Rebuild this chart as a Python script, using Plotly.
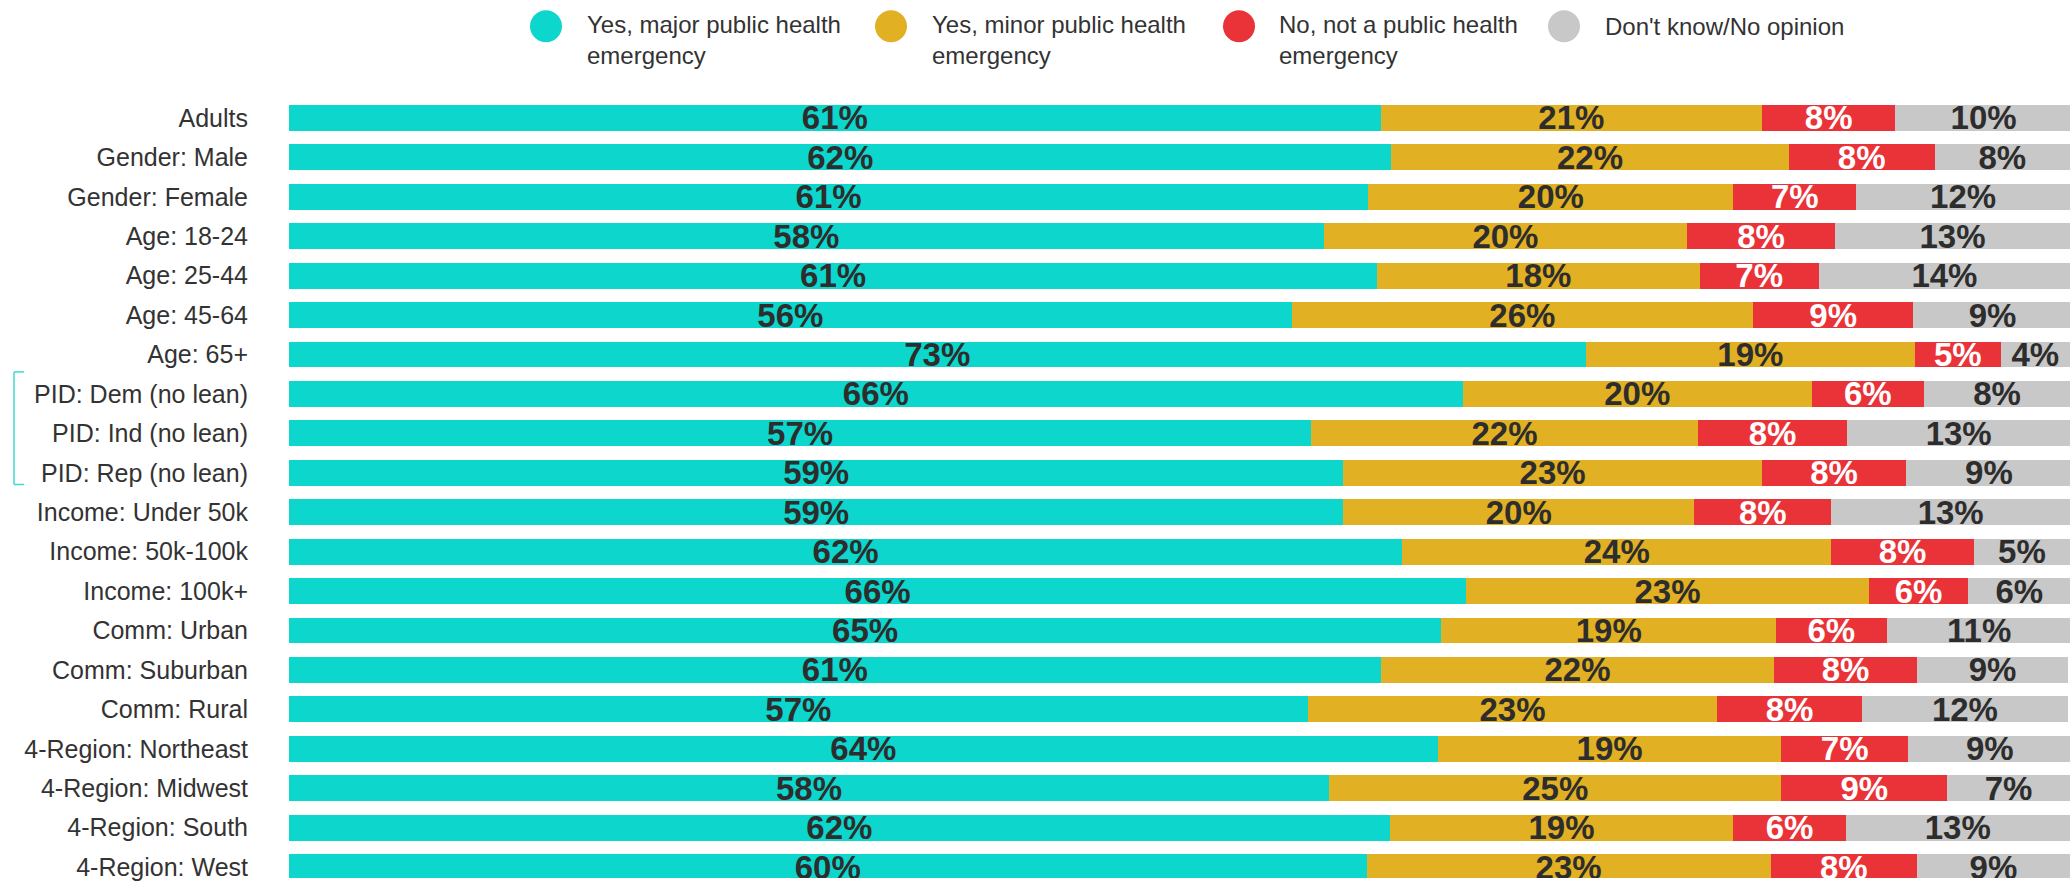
import plotly.graph_objects as go

categories = [
    "Adults", "Gender: Male", "Gender: Female", "Age: 18-24", "Age: 25-44",
    "Age: 45-64", "Age: 65+", "PID: Dem (no lean)", "PID: Ind (no lean)",
    "PID: Rep (no lean)", "Income: Under 50k", "Income: 50k-100k",
    "Income: 100k+", "Comm: Urban", "Comm: Suburban", "Comm: Rural",
    "4-Region: Northeast", "4-Region: Midwest", "4-Region: South", "4-Region: West",
]

series_names = [
    "Yes, major public health emergency",
    "Yes, minor public health emergency",
    "No, not a public health emergency",
    "Don't know/No opinion",
]

# underlying shares
major = [61.3, 61.9, 60.6, 58.1, 61.1, 56.3, 72.8, 65.9, 57.4, 59.2,
         59.2, 62.5, 66.1, 64.7, 61.3, 57.2, 64.5, 58.4, 61.8, 60.5]
minor = [21.4, 22.3, 20.5, 20.4, 18.1, 25.9, 18.5, 19.6, 21.7, 23.5,
         19.7, 24.1, 22.6, 18.8, 22.1, 23.0, 19.3, 25.4, 19.3, 22.7]
notphe = [7.5, 8.2, 6.9, 8.3, 6.7, 9.0, 4.8, 6.3, 8.4, 8.1,
          7.7, 8.0, 5.6, 6.2, 8.0, 8.1, 7.1, 9.3, 6.3, 8.2]
dk = [9.9, 7.6, 12.0, 13.2, 14.1, 8.9, 3.9, 8.2, 12.5, 9.3,
      13.4, 5.4, 5.7, 10.4, 8.5, 11.6, 9.2, 6.9, 12.6, 8.6]

# printed labels (rounded %)
major_lbl = [61, 62, 61, 58, 61, 56, 73, 66, 57, 59, 59, 62, 66, 65, 61, 57, 64, 58, 62, 60]
minor_lbl = [21, 22, 20, 20, 18, 26, 19, 20, 22, 23, 20, 24, 23, 19, 22, 23, 19, 25, 19, 23]
notphe_lbl = [8, 8, 7, 8, 7, 9, 5, 6, 8, 8, 8, 8, 6, 6, 8, 8, 7, 9, 6, 8]
dk_lbl = [10, 8, 12, 13, 14, 9, 4, 8, 13, 9, 13, 5, 6, 11, 9, 12, 9, 7, 13, 9]

colors = ["#0dd6cc", "#e1b023", "#e93339", "#c8c8c8"]
text_colors = ["#2d2d2d", "#2d2d2d", "#ffffff", "#2d2d2d"]
legend_labels = [
    "Yes, major public health<br>emergency",
    "Yes, minor public health<br>emergency",
    "No, not a public health<br>emergency",
    "Don't know/No opinion",
]

FONT = "Liberation Sans, Arial, Helvetica, sans-serif"
W, H = 2070, 881
L, T = 289, 90
PW, PH = W - L, H - T


def px_x(p):
    return (p - L) / PW


def px_y(p):
    return (H - p) / PH


fig = go.Figure()
for name, vals, lbls, col, tcol in zip(
        series_names, [major, minor, notphe, dk],
        [major_lbl, minor_lbl, notphe_lbl, dk_lbl], colors, text_colors):
    fig.add_trace(go.Bar(
        y=categories, x=vals, name=name, orientation="h",
        marker=dict(color=col, line=dict(width=0)),
        text=[f"{v}%" for v in lbls],
        textposition="inside", insidetextanchor="middle", textangle=0,
        constraintext="none",
        textfont=dict(family=FONT, size=33, color=tcol, weight="bold"),
        hoverinfo="skip", showlegend=False,
    ))

shapes = []
annotations = []
marker_cx = [546, 891, 1239, 1564]
text_x = [585, 930, 1277, 1603]
for cx, tx, col, lab in zip(marker_cx, text_x, colors, legend_labels):
    shapes.append(dict(
        type="circle", xref="paper", yref="paper",
        xsizemode="pixel", ysizemode="pixel",
        xanchor=px_x(cx), yanchor=px_y(26),
        x0=-16, x1=16, y0=-16, y1=16,
        fillcolor=col, line=dict(width=0), layer="above",
    ))
    two = "<br>" in lab
    annotations.append(dict(
        text=lab, xref="paper", yref="paper",
        x=px_x(tx), y=px_y(40 if two else 26),
        xanchor="left", yanchor="middle", align="left", showarrow=False,
        font=dict(family=FONT, size=24, color="#333333"),
    ))

# bracket for PID group
bracket_col = "#3fd9d1"
shapes.append(dict(type="line", xref="paper", yref="paper",
                   x0=px_x(14), x1=px_x(14), y0=px_y(373), y1=px_y(486),
                   line=dict(color=bracket_col, width=1.5)))
shapes.append(dict(type="line", xref="paper", yref="paper",
                   x0=px_x(14), x1=px_x(24), y0=px_y(373), y1=px_y(373),
                   line=dict(color=bracket_col, width=1.5)))
shapes.append(dict(type="line", xref="paper", yref="paper",
                   x0=px_x(14), x1=px_x(24), y0=px_y(486), y1=px_y(486),
                   line=dict(color=bracket_col, width=1.5)))

pitch = 39.58
row0 = 118
bottom_idx = (H - row0) / pitch
top_idx = (T - row0) / pitch

fig.update_layout(
    width=W, height=H,
    margin=dict(l=L, r=0, t=T, b=0, pad=0),
    barmode="stack", bargap=0.343,
    paper_bgcolor="white", plot_bgcolor="white",
    font=dict(family=FONT, color="#333333"),
    showlegend=False,
    shapes=shapes, annotations=annotations,
    xaxis=dict(range=[0, 100], visible=False, showgrid=False, zeroline=False),
    yaxis=dict(type="category", categoryorder="array", categoryarray=categories,
               range=[bottom_idx, top_idx], showgrid=False, zeroline=False,
               showline=False, ticks="", ticklabelstandoff=40,
               tickfont=dict(family=FONT, size=25, color="#333333")),
)

fig.write_html(
    "out.html",
    config={"displayModeBar": False},
    post_script="document.body.style.margin='0';document.body.style.overflow='hidden';",
)
